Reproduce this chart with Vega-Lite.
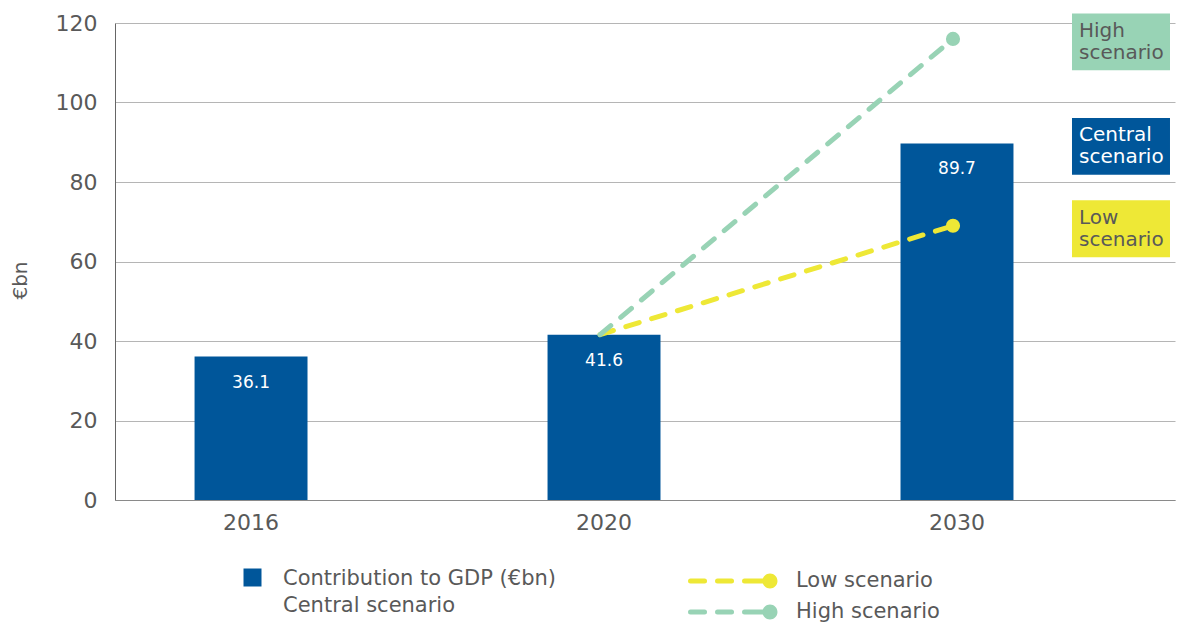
{
  "$schema": "https://vega.github.io/schema/vega-lite/v6.json",
  "width": 1060,
  "height": 477,
  "autosize": {"type": "none"},
  "padding": {"left": 115, "top": 23, "right": 25, "bottom": 126},
  "config": {"view": {"stroke": null}, "font": "DejaVu Sans"},
  "datasets": {
    "bars": [
      {"year": "2016", "value": 36.1, "series": "Contribution to GDP (€bn)|Central scenario"},
      {"year": "2020", "value": 41.6, "series": "Contribution to GDP (€bn)|Central scenario"},
      {"year": "2030", "value": 89.7, "series": "Contribution to GDP (€bn)|Central scenario"}
    ],
    "lines": [
      {"year": "2020", "value": 41.6, "scenario": "Low scenario"},
      {"year": "2030", "value": 69.0, "scenario": "Low scenario"},
      {"year": "2020", "value": 41.6, "scenario": "High scenario"},
      {"year": "2030", "value": 116.0, "scenario": "High scenario"}
    ],
    "boxes": [
      {"year": "2030", "value": 116.0, "scenario": "High scenario", "label": "High\nscenario"},
      {"year": "2030", "value": 89.7, "scenario": "Central scenario", "label": "Central\nscenario"},
      {"year": "2030", "value": 69.0, "scenario": "Low scenario", "label": "Low\nscenario"}
    ]
  },
  "encoding": {
    "x": {
      "field": "year",
      "type": "ordinal",
      "scale": {"domain": ["2016", "2020", "2030"], "paddingInner": 0.68, "paddingOuter": 0.3415, "align": 0.33},
      "axis": {"title": null, "labelFontSize": 22, "labelColor": "#595959", "labelPadding": 12, "ticks": false, "domainColor": "#8a8a8a", "labelAngle": 0, "grid": false}
    },
    "y": {
      "field": "value",
      "type": "quantitative",
      "scale": {"domain": [0, 120]},
      "axis": {"title": "€bn", "titleFontSize": 20, "titleColor": "#595959", "titleFontWeight": "normal", "titleX": -95, "titleY": 257, "titleAngle": 270, "titleAlign": "center", "titleBaseline": "middle", "labelFontSize": 22, "labelColor": "#595959", "labelPadding": 18, "ticks": false, "domainColor": "#666666", "gridColor": "#b5b5b5", "values": [0, 20, 40, 60, 80, 100, 120]}
    }
  },
  "layer": [
    {
      "data": {"name": "bars"},
      "mark": {"type": "bar"},
      "encoding": {
        "color": {
          "field": "series",
          "type": "nominal",
          "scale": {"range": ["#00569A"]},
          "legend": {"orient": "none", "legendX": 127, "legendY": 544, "title": null, "symbolType": "square", "symbolSize": 324, "symbolStrokeWidth": 0, "symbolOpacity": 1, "labelFontSize": 21, "labelColor": "#595959", "labelOffset": 20, "labelLimit": 500, "labelExpr": "split(datum.label, '|')", "labelBaseline": "middle", "padding": 0,
            "encode": {"labels": {"update": {"dy": {"value": 1}, "lineHeight": {"value": 27}}}}}
        }
      }
    },
    {
      "data": {"name": "bars"},
      "mark": {"type": "text", "color": "white", "fontSize": 17, "baseline": "middle", "dy": 26},
      "encoding": {"text": {"field": "value", "type": "quantitative", "format": ".1f"}}
    },
    {
      "data": {"name": "lines"},
      "mark": {"type": "line", "strokeWidth": 5, "strokeDash": [14, 13], "strokeCap": "round", "xOffset": -4},
      "encoding": {
        "stroke": {
          "field": "scenario",
          "type": "nominal",
          "scale": {"domain": ["Low scenario", "High scenario"], "range": ["#EEE836", "#98D3B5"]},
          "legend": {"orient": "none", "legendX": 644, "legendY": 547, "title": null,
            "symbolType": "M-9.35,0L-0.88,0A0.88,0.88 0 1,0 0.88,0A0.88,0.88 0 1,0 -0.88,0",
            "symbolSize": 289, "symbolStrokeWidth": 5, "symbolDash": [14, 13, 14, 13, 18, 300],
            "labelFontSize": 21, "labelColor": "#595959", "labelOffset": 15, "rowPadding": -5, "padding": 0, "labelLimit": 300,
            "encode": {"symbols": {"update": {"fill": {"scale": "stroke", "field": "value"}, "strokeCap": {"value": "round"}, "opacity": {"value": 1}}}}}
        }
      }
    },
    {
      "data": {"name": "lines"},
      "transform": [{"filter": "datum.year === '2030'"}],
      "mark": {"type": "point", "filled": true, "size": 200, "opacity": 1, "xOffset": -4, "shape": "circle"},
      "encoding": {
        "fill": {
          "field": "scenario",
          "type": "nominal",
          "scale": {"domain": ["Low scenario", "High scenario", "Central scenario"], "range": ["#EEE836", "#98D3B5", "#00569A"]},
          "legend": null
        }
      }
    },
    {
      "data": {"name": "boxes"},
      "mark": {"type": "point", "shape": "M-1,-0.58L1,-0.58L1,0.58L-1,0.58Z", "size": 9604, "filled": true, "opacity": 1, "strokeWidth": 0, "xOffset": 164, "yOffset": 3},
      "encoding": {
        "fill": {"field": "scenario", "type": "nominal", "legend": null}
      }
    },
    {
      "data": {"name": "boxes"},
      "mark": {"type": "text", "align": "left", "baseline": "middle", "xOffset": 122, "yOffset": -8, "fontSize": 20, "lineBreak": "\n", "lineHeight": 22},
      "encoding": {
        "text": {"field": "label", "type": "nominal"},
        "color": {"condition": {"test": "datum.scenario === 'Central scenario'", "value": "#ffffff"}, "value": "#595959"}
      }
    }
  ]
}
